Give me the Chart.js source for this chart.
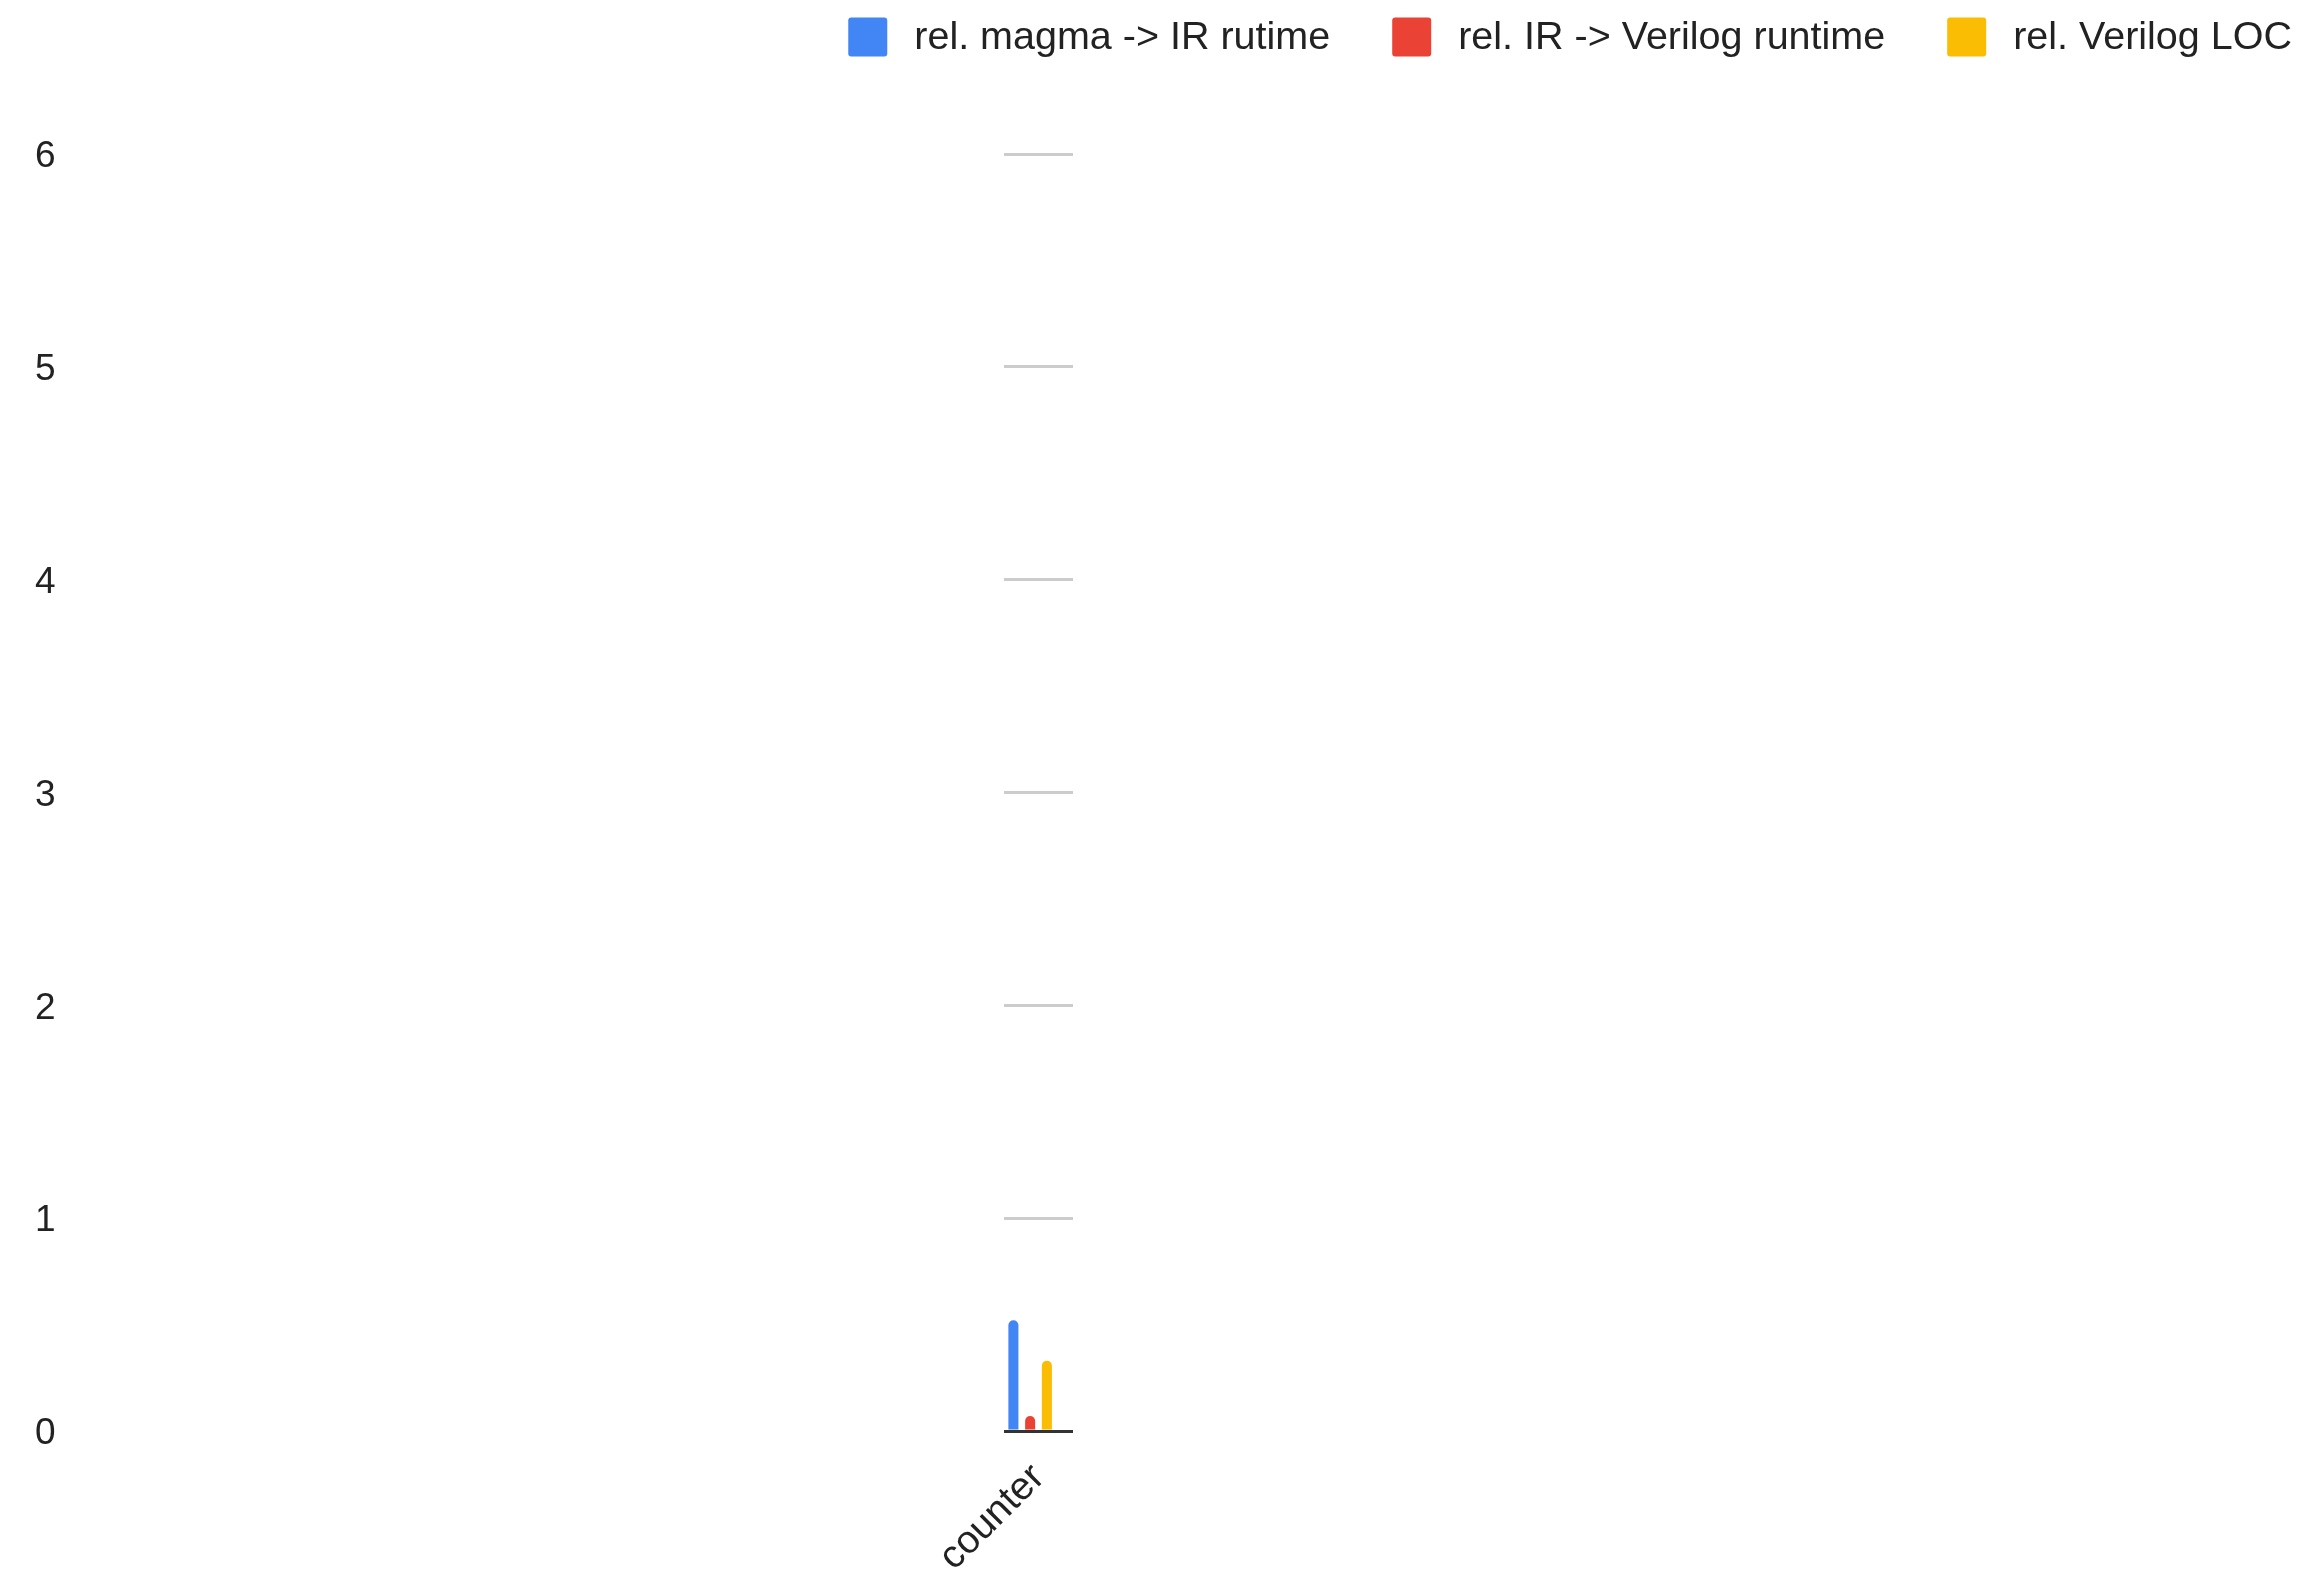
<!DOCTYPE html>
<html>
<head>
<meta charset="utf-8">
<title>counter – relative runtimes and Verilog LOC</title>
<script src="https://cdn.jsdelivr.net/npm/chart.js@4/dist/chart.umd.min.js"></script>
<style>
  html, body { margin: 0; padding: 0; background: #ffffff; }
  #wrap { position: relative; width: 2309px; height: 1574px; }
</style>
</head>
<body>
<div id="wrap"><canvas id="chart"></canvas></div>
<script>
// ---- data ----
const categories = ['counter'];
const seriesLabels = ['rel. magma -> IR rutime', 'rel. IR -> Verilog runtime', 'rel. Verilog LOC'];
const magmaToIrRuntime = [0.52];
const irToVerilogRuntime = [0.07];
const verilogLoc = [0.33];
// a fourth, empty column keeps its slot to the right of the three bars
const emptyColumn = [null];
const yTickValues = [0, 1, 2, 3, 4, 5, 6];

const seriesColors = ['#4285F4', '#EA4335', '#FBBC04'];
const FONT = '"Liberation Sans", Arial, Helvetica, sans-serif';
const TEXT = '#222222';

// legend drawn in the top-right corner, right-aligned, from the labelled datasets
const cornerLegend = {
  id: 'cornerLegend',
  afterDraw(chart, args, o) {
    const ctx = chart.ctx;
    ctx.save();
    ctx.font = o.fontSize + 'px ' + FONT;
    ctx.textBaseline = 'middle';
    ctx.textAlign = 'left';
    const items = chart.data.datasets.filter(d => d.label);
    let right = chart.width - o.right;
    for (let i = items.length - 1; i >= 0; i--) {
      const ds = items[i];
      const w = ctx.measureText(ds.label).width;
      const tx = right - w;
      ctx.fillStyle = TEXT;
      ctx.fillText(ds.label, tx, o.centerY + o.textDy);
      const bx = tx - o.gap - o.box;
      ctx.fillStyle = ds.backgroundColor;
      ctx.beginPath();
      ctx.roundRect(bx, o.centerY - o.box / 2, o.box, o.box, o.radius);
      ctx.fill();
      right = bx - o.itemGap;
    }
    ctx.restore();
  }
};

const barStyle = {
  borderRadius: 5,
  borderSkipped: 'start',
  categoryPercentage: 0.97,
  barPercentage: 0.6
};

new Chart(document.getElementById('chart'), {
  type: 'bar',
  data: {
    labels: categories,
    datasets: [
      Object.assign({ label: seriesLabels[0], data: magmaToIrRuntime, backgroundColor: seriesColors[0] }, barStyle),
      Object.assign({ label: seriesLabels[1], data: irToVerilogRuntime, backgroundColor: seriesColors[1] }, barStyle),
      Object.assign({ label: seriesLabels[2], data: verilogLoc, backgroundColor: seriesColors[2] }, barStyle),
      Object.assign({ label: '', data: emptyColumn, backgroundColor: 'rgba(0,0,0,0)' }, barStyle)
    ]
  },
  options: {
    responsive: true,
    maintainAspectRatio: false,
    animation: false,
    layout: { padding: { left: 35, right: 1236, top: 154, bottom: 0 } },
    plugins: {
      legend: { display: false },
      tooltip: { enabled: false },
      cornerLegend: { fontSize: 39.5, right: 17, centerY: 37, textDy: 1, box: 39, radius: 3, gap: 27, itemGap: 62 }
    },
    scales: {
      x: {
        grid: { display: false, drawTicks: false },
        border: { display: false },
        ticks: {
          color: TEXT,
          font: { family: FONT, size: 39 },
          minRotation: 45,
          maxRotation: 45,
          padding: 24
        },
        afterFit(scale) { scale.height = 143; }
      },
      y: {
        min: yTickValues[0],
        max: yTickValues[yTickValues.length - 1],
        afterBuildTicks(scale) { scale.ticks = yTickValues.map(v => ({ value: v })); },
        grid: {
          drawTicks: false,
          color: ctx => (ctx.tick && ctx.tick.value === 0 ? '#333333' : '#cccccc'),
          lineWidth: 3
        },
        border: { display: false },
        ticks: {
          color: TEXT,
          font: { family: FONT, size: 37 },
          crossAlign: 'far',
          padding: 0,
          labelOffset: 3
        },
        afterFit(scale) { scale.width = 969; }
      }
    }
  },
  plugins: [cornerLegend]
});
</script>
</body>
</html>
